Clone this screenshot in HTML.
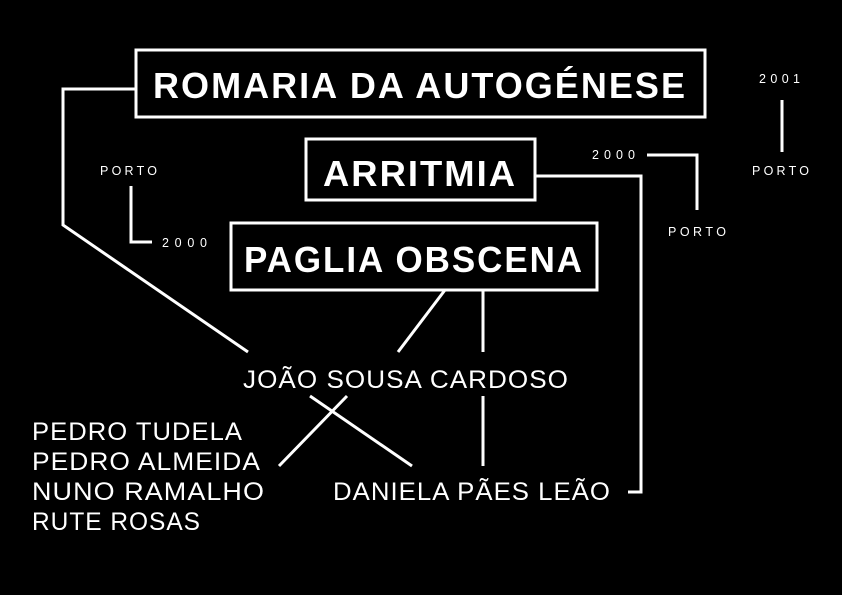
<!DOCTYPE html>
<html><head><meta charset="utf-8"><style>
body{margin:0;background:#000;}
svg{display:block}
text{font-family:"Liberation Sans",sans-serif;fill:#fff}
.b{font-weight:bold;font-size:36px;letter-spacing:2px}
.m{font-size:25px;letter-spacing:1px}
.s{font-size:12.5px;letter-spacing:3px}
</style></head><body>
<svg width="842" height="595" viewBox="0 0 842 595">
<rect width="842" height="595" fill="#000"/>
<g fill="none" stroke="#fff" stroke-width="3">
<rect x="136" y="50" width="569" height="67"/>
<rect x="306" y="139" width="229" height="61"/>
<rect x="231" y="223" width="366" height="67"/>
<polyline points="136,89 63,89 63,225 248,352"/>
<polyline points="535,176 641,176 641,492 628,492"/>
<line x1="445" y1="290" x2="398" y2="352"/>
<line x1="483" y1="290" x2="483" y2="352"/>
<line x1="310" y1="396" x2="412" y2="466"/>
<line x1="347" y1="396" x2="279" y2="466"/>
<line x1="483" y1="396" x2="483" y2="466"/>
<polyline points="131,186 131,242 152,242"/>
<polyline points="647,155 697,155 697,210"/>
<line x1="782" y1="100" x2="782" y2="152"/>
</g>
<text class="b" x="420" y="98" text-anchor="middle" textLength="534" lengthAdjust="spacingAndGlyphs">ROMARIA DA AUTOGÉNESE</text>
<text class="b" x="420" y="186" text-anchor="middle" textLength="194" lengthAdjust="spacingAndGlyphs">ARRITMIA</text>
<text class="b" x="414" y="272" text-anchor="middle" textLength="340" lengthAdjust="spacingAndGlyphs">PAGLIA OBSCENA</text>
<text class="m" x="243" y="388" textLength="326" lengthAdjust="spacingAndGlyphs">JOÃO SOUSA CARDOSO</text>
<text class="m" x="333" y="500" textLength="278" lengthAdjust="spacingAndGlyphs">DANIELA PÃES LEÃO</text>
<text class="m" x="32" y="440" textLength="211" lengthAdjust="spacingAndGlyphs">PEDRO TUDELA</text>
<text class="m" x="32" y="470" textLength="229" lengthAdjust="spacingAndGlyphs">PEDRO ALMEIDA</text>
<text class="m" x="32" y="500" textLength="233" lengthAdjust="spacingAndGlyphs">NUNO RAMALHO</text>
<text class="m" x="32" y="530" textLength="169" lengthAdjust="spacingAndGlyphs">RUTE ROSAS</text>
<text class="s" x="100" y="175" textLength="60">PORTO</text>
<text class="s" x="162" y="247" textLength="48">2000</text>
<text class="s" x="592" y="159" textLength="46">2000</text>
<text class="s" x="668" y="236" textLength="61">PORTO</text>
<text class="s" x="759" y="83" textLength="44">2001</text>
<text class="s" x="752" y="175" textLength="60">PORTO</text>
</svg>
</body></html>
